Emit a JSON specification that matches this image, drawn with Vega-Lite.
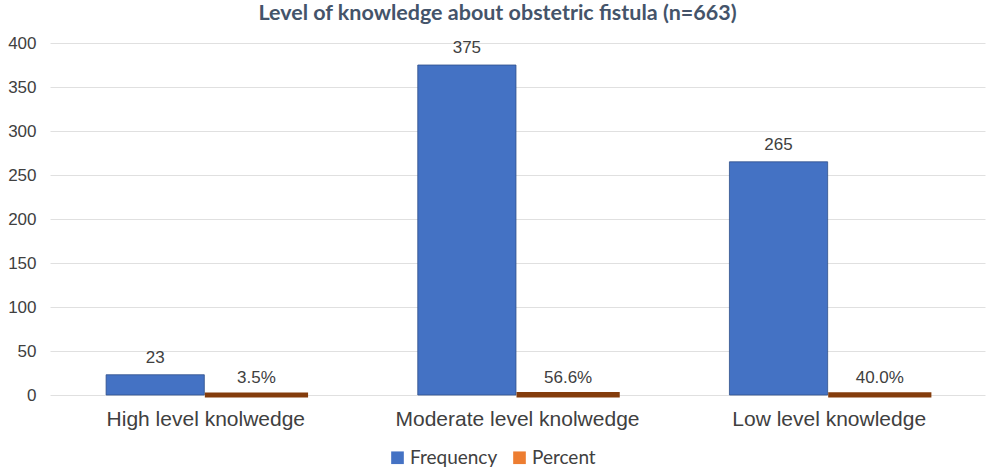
{
  "$schema": "https://vega.github.io/schema/vega-lite/v6.json",
  "autosize": {"type": "none"},
  "width": 935,
  "height": 352,
  "padding": {"left": 50, "top": 43, "right": 7, "bottom": 80},
  "background": "white",
  "title": {
    "text": "Level of knowledge about obstetric fistula (n=663)",
    "font": "Lato",
    "fontSize": 21.5,
    "fontWeight": "bold",
    "color": "#44546A",
    "anchor": "middle",
    "dx": -20,
    "offset": 10
  },
  "data": {
    "values": [
      {"category": "High level knolwedge", "series": "Frequency", "value": 23, "label": "23"},
      {"category": "High level knolwedge", "series": "Percent", "value": 0.035, "label": "3.5%"},
      {"category": "Moderate level knolwedge", "series": "Frequency", "value": 375, "label": "375"},
      {"category": "Moderate level knolwedge", "series": "Percent", "value": 0.566, "label": "56.6%"},
      {"category": "Low level knowledge", "series": "Frequency", "value": 265, "label": "265"},
      {"category": "Low level knowledge", "series": "Percent", "value": 0.4, "label": "40.0%"}
    ]
  },
  "encoding": {
    "x": {
      "field": "category",
      "type": "nominal",
      "sort": null,
      "scale": {"paddingInner": 0.36, "paddingOuter": 0.18},
      "axis": {
        "title": null,
        "labelAngle": 0,
        "labelFont": "Liberation Sans",
        "labelFontSize": 21,
        "labelColor": "#404040",
        "labelPadding": 13,
        "labelLimit": 500,
        "ticks": false,
        "domain": false
      }
    },
    "xOffset": {
      "field": "series",
      "type": "nominal",
      "sort": ["Frequency", "Percent"],
      "scale": {"paddingInner": 0.03}
    },
    "y": {
      "field": "value",
      "type": "quantitative",
      "scale": {"domain": [0, 400]},
      "axis": {
        "title": null,
        "values": [0, 50, 100, 150, 200, 250, 300, 350, 400],
        "labelFont": "Liberation Sans",
        "labelFontSize": 17,
        "labelColor": "#404040",
        "labelPadding": 14,
        "ticks": false,
        "domain": false,
        "gridColor": "#E0E0E0",
        "gridWidth": 1
      }
    }
  },
  "layer": [
    {
      "mark": {"type": "bar", "stroke": "#2F4F8A", "strokeWidth": 0.8},
      "encoding": {
        "color": {
          "field": "series",
          "type": "nominal",
          "sort": ["Frequency", "Percent"],
          "scale": {"domain": ["Frequency", "Percent"], "range": ["#4472C4", "#ED7D31"]},
          "legend": {
            "title": null,
            "orient": "none",
            "legendX": 338,
            "legendY": 405,
            "direction": "horizontal",
            "symbolType": "square",
            "symbolSize": 160,
            "symbolStrokeWidth": 0,
            "labelFont": "Lato",
            "labelFontSize": 19,
            "labelColor": "#404040",
            "labelOffset": 3,
            "columnPadding": 12
          }
        }
      }
    },
    {
      "transform": [{"filter": "datum.series === 'Percent'"}],
      "mark": {"type": "bar", "color": "#843C0C", "stroke": "#843C0C", "strokeWidth": 5},
      "encoding": {}
    },
    {
      "mark": {
        "type": "text",
        "baseline": "bottom",
        "dy": -8,
        "font": "Liberation Sans",
        "fontSize": 17,
        "color": "#404040"
      },
      "encoding": {"text": {"field": "label", "type": "nominal"}}
    }
  ],
  "config": {"view": {"stroke": null}}
}
